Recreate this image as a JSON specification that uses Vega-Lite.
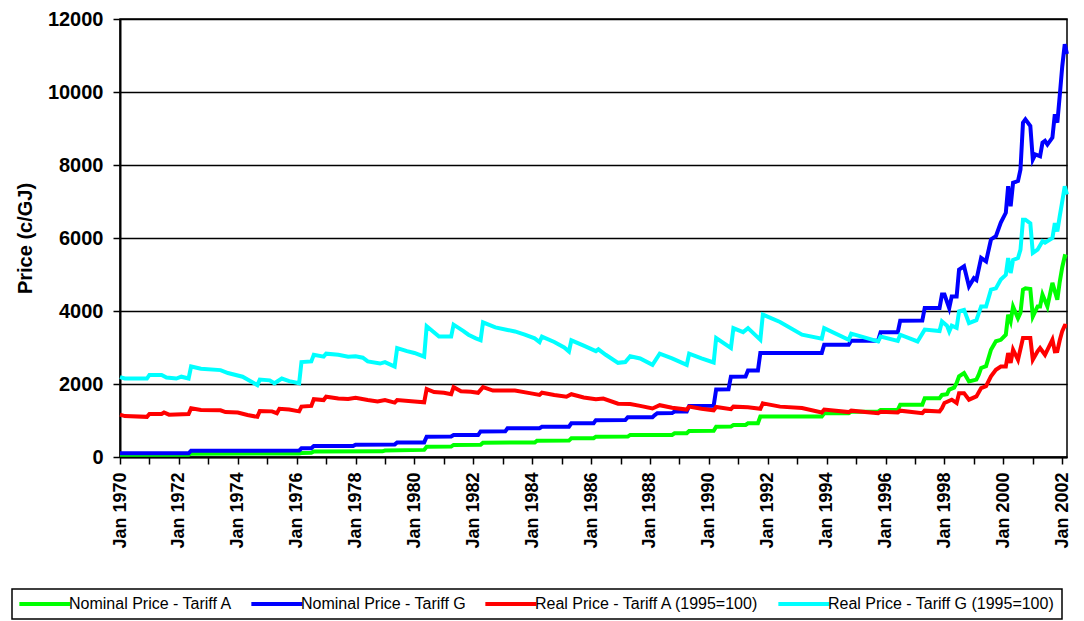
{
"$schema": "https://vega.github.io/schema/vega-lite/v6.json",
"width": 947, "height": 438,
"autosize": {"type": "none"},
"padding": {"left": 120, "top": 19, "right": 17, "bottom": 164},
"background": "white",
"config": {"view": {"stroke": "#000", "strokeWidth": 1.5}, "font": "Liberation Sans", "legend": {"strokeWidth": 1.5}},
"datasets": {
"na": [
{"d":"1970-01","v":60},{"d":"1972-05","v":60},{"d":"1972-06","v":90},{"d":"1976-02","v":95},{"d":"1976-03","v":110},{"d":"1976-07","v":115},{"d":"1976-08","v":150},{"d":"1978-12","v":155},{"d":"1979-01","v":175},{"d":"1980-05","v":195},{"d":"1980-06","v":283},{"d":"1981-04","v":285},{"d":"1981-05","v":330},{"d":"1982-04","v":335},{"d":"1982-05","v":393},{"d":"1984-02","v":395},{"d":"1984-03","v":448},{"d":"1985-04","v":450},{"d":"1985-05","v":513},{"d":"1986-02","v":515},{"d":"1986-03","v":557},{"d":"1987-04","v":560},{"d":"1987-05","v":604},{"d":"1988-10","v":606},{"d":"1988-11","v":650},{"d":"1989-04","v":652},{"d":"1989-05","v":714},{"d":"1990-03","v":716},{"d":"1990-04","v":832},{"d":"1990-10","v":834},{"d":"1990-11","v":878},{"d":"1991-04","v":880},{"d":"1991-05","v":925},{"d":"1991-09","v":927},{"d":"1991-10","v":1107},{"d":"1993-11","v":1110},{"d":"1993-12","v":1200},{"d":"1994-10","v":1202},{"d":"1994-11","v":1240},{"d":"1995-10","v":1242},{"d":"1995-11","v":1290},{"d":"1996-06","v":1292},{"d":"1996-07","v":1430},{"d":"1997-04","v":1432},{"d":"1997-05","v":1610},{"d":"1997-11","v":1612},{"d":"1997-12","v":1700},{"d":"1998-02","v":1720},{"d":"1998-03","v":1845},{"d":"1998-05","v":1900},{"d":"1998-06","v":2030},{"d":"1998-07","v":2210},{"d":"1998-09","v":2300},{"d":"1998-11","v":2070},{"d":"1999-02","v":2120},{"d":"1999-03","v":2250},{"d":"1999-04","v":2440},{"d":"1999-06","v":2490},{"d":"1999-08","v":2940},{"d":"1999-10","v":3170},{"d":"1999-12","v":3210},{"d":"2000-02","v":3350},{"d":"2000-03","v":3900},{"d":"2000-04","v":3715},{"d":"2000-05","v":4120},{"d":"2000-07","v":3800},{"d":"2000-08","v":3950},{"d":"2000-09","v":4585},{"d":"2000-10","v":4620},{"d":"2000-12","v":4600},{"d":"2001-01","v":3850},{"d":"2001-03","v":4125},{"d":"2001-04","v":4125},{"d":"2001-05","v":4450},{"d":"2001-07","v":4125},{"d":"2001-09","v":4770},{"d":"2001-11","v":4310},{"d":"2001-12","v":4800},{"d":"2002-01","v":5200},{"d":"2002-02","v":5500},{"d":"2002-03","v":5480}
],
"ng": [
{"d":"1970-01","v":100},{"d":"1972-05","v":100},{"d":"1972-06","v":173},{"d":"1976-02","v":175},{"d":"1976-03","v":238},{"d":"1976-07","v":240},{"d":"1976-08","v":300},{"d":"1977-12","v":302},{"d":"1978-01","v":338},{"d":"1979-05","v":340},{"d":"1979-06","v":400},{"d":"1980-05","v":400},{"d":"1980-06","v":557},{"d":"1981-04","v":560},{"d":"1981-05","v":600},{"d":"1982-03","v":602},{"d":"1982-04","v":700},{"d":"1983-02","v":702},{"d":"1983-03","v":787},{"d":"1984-04","v":790},{"d":"1984-05","v":830},{"d":"1985-04","v":832},{"d":"1985-05","v":925},{"d":"1986-02","v":927},{"d":"1986-03","v":1010},{"d":"1987-03","v":1012},{"d":"1987-04","v":1090},{"d":"1988-02","v":1092},{"d":"1988-03","v":1150},{"d":"1988-04","v":1200},{"d":"1988-10","v":1202},{"d":"1988-11","v":1245},{"d":"1989-04","v":1247},{"d":"1989-05","v":1400},{"d":"1990-03","v":1402},{"d":"1990-04","v":1850},{"d":"1990-09","v":1855},{"d":"1990-10","v":2200},{"d":"1991-04","v":2205},{"d":"1991-05","v":2370},{"d":"1991-09","v":2372},{"d":"1991-10","v":2850},{"d":"1993-11","v":2852},{"d":"1993-12","v":3075},{"d":"1994-10","v":3077},{"d":"1994-11","v":3185},{"d":"1995-10","v":3187},{"d":"1995-11","v":3415},{"d":"1996-06","v":3417},{"d":"1996-07","v":3735},{"d":"1997-04","v":3737},{"d":"1997-05","v":4080},{"d":"1997-11","v":4082},{"d":"1997-12","v":4450},{"d":"1998-01","v":4450},{"d":"1998-03","v":4080},{"d":"1998-04","v":4400},{"d":"1998-06","v":4400},{"d":"1998-07","v":5135},{"d":"1998-09","v":5225},{"d":"1998-11","v":4675},{"d":"1999-01","v":4900},{"d":"1999-02","v":4850},{"d":"1999-04","v":5455},{"d":"1999-06","v":5360},{"d":"1999-08","v":5960},{"d":"1999-10","v":6050},{"d":"1999-12","v":6420},{"d":"2000-02","v":6690},{"d":"2000-03","v":7420},{"d":"2000-04","v":6870},{"d":"2000-05","v":7515},{"d":"2000-07","v":7560},{"d":"2000-08","v":7880},{"d":"2000-09","v":9160},{"d":"2000-10","v":9250},{"d":"2000-12","v":9070},{"d":"2001-01","v":8150},{"d":"2001-02","v":8290},{"d":"2001-04","v":8240},{"d":"2001-05","v":8610},{"d":"2001-06","v":8660},{"d":"2001-07","v":8560},{"d":"2001-09","v":8750},{"d":"2001-10","v":9390},{"d":"2001-11","v":9160},{"d":"2001-12","v":9900},{"d":"2002-01","v":10700},{"d":"2002-02","v":11310},{"d":"2002-03","v":11040}
],
"ra": [
{"d":"1970-01","v":1160},{"d":"1970-03","v":1120},{"d":"1970-12","v":1100},{"d":"1971-01","v":1180},{"d":"1971-06","v":1180},{"d":"1971-07","v":1220},{"d":"1971-09","v":1160},{"d":"1972-05","v":1180},{"d":"1972-06","v":1337},{"d":"1972-10","v":1290},{"d":"1973-06","v":1280},{"d":"1973-08","v":1230},{"d":"1974-01","v":1220},{"d":"1974-05","v":1150},{"d":"1974-09","v":1100},{"d":"1974-10","v":1260},{"d":"1975-03","v":1250},{"d":"1975-05","v":1200},{"d":"1975-06","v":1320},{"d":"1975-10","v":1300},{"d":"1976-02","v":1250},{"d":"1976-03","v":1380},{"d":"1976-07","v":1400},{"d":"1976-08","v":1584},{"d":"1976-12","v":1560},{"d":"1977-01","v":1650},{"d":"1977-06","v":1600},{"d":"1977-10","v":1590},{"d":"1978-01","v":1620},{"d":"1978-06","v":1560},{"d":"1978-10","v":1520},{"d":"1979-01","v":1560},{"d":"1979-05","v":1490},{"d":"1979-06","v":1560},{"d":"1980-01","v":1520},{"d":"1980-05","v":1500},{"d":"1980-06","v":1860},{"d":"1980-09","v":1780},{"d":"1981-01","v":1760},{"d":"1981-04","v":1720},{"d":"1981-05","v":1914},{"d":"1981-08","v":1800},{"d":"1981-12","v":1790},{"d":"1982-03","v":1760},{"d":"1982-05","v":1914},{"d":"1982-09","v":1820},{"d":"1983-06","v":1820},{"d":"1983-12","v":1750},{"d":"1984-04","v":1700},{"d":"1984-05","v":1760},{"d":"1984-10","v":1700},{"d":"1985-03","v":1650},{"d":"1985-05","v":1720},{"d":"1985-10","v":1630},{"d":"1986-03","v":1580},{"d":"1986-06","v":1600},{"d":"1986-12","v":1460},{"d":"1987-05","v":1450},{"d":"1987-09","v":1400},{"d":"1988-02","v":1330},{"d":"1988-05","v":1420},{"d":"1988-10","v":1350},{"d":"1989-04","v":1300},{"d":"1989-05","v":1380},{"d":"1989-10","v":1320},{"d":"1990-03","v":1280},{"d":"1990-04","v":1370},{"d":"1990-10","v":1310},{"d":"1990-11","v":1380},{"d":"1991-05","v":1360},{"d":"1991-10","v":1320},{"d":"1991-11","v":1470},{"d":"1992-06","v":1380},{"d":"1993-03","v":1340},{"d":"1993-11","v":1220},{"d":"1993-12","v":1300},{"d":"1994-10","v":1230},{"d":"1994-11","v":1270},{"d":"1995-10","v":1200},{"d":"1995-11","v":1240},{"d":"1996-06","v":1220},{"d":"1996-07","v":1270},{"d":"1997-04","v":1200},{"d":"1997-05","v":1270},{"d":"1997-11","v":1250},{"d":"1997-12","v":1340},{"d":"1998-01","v":1480},{"d":"1998-04","v":1570},{"d":"1998-06","v":1480},{"d":"1998-07","v":1750},{"d":"1998-09","v":1750},{"d":"1998-11","v":1570},{"d":"1999-02","v":1660},{"d":"1999-04","v":1890},{"d":"1999-06","v":1940},{"d":"1999-08","v":2210},{"d":"1999-10","v":2390},{"d":"1999-12","v":2480},{"d":"2000-02","v":2480},{"d":"2000-03","v":2850},{"d":"2000-04","v":2575},{"d":"2000-05","v":2940},{"d":"2000-07","v":2665},{"d":"2000-09","v":3260},{"d":"2000-12","v":3260},{"d":"2001-01","v":2665},{"d":"2001-03","v":2895},{"d":"2001-04","v":2985},{"d":"2001-06","v":2800},{"d":"2001-09","v":3215},{"d":"2001-10","v":2895},{"d":"2001-11","v":2900},{"d":"2001-12","v":3200},{"d":"2002-01","v":3450},{"d":"2002-02","v":3600},{"d":"2002-03","v":3590}
],
"rg": [
{"d":"1970-01","v":2190},{"d":"1970-03","v":2150},{"d":"1970-12","v":2150},{"d":"1971-01","v":2250},{"d":"1971-06","v":2250},{"d":"1971-08","v":2180},{"d":"1971-12","v":2150},{"d":"1972-02","v":2200},{"d":"1972-05","v":2150},{"d":"1972-06","v":2480},{"d":"1972-10","v":2420},{"d":"1973-06","v":2380},{"d":"1973-09","v":2300},{"d":"1974-03","v":2200},{"d":"1974-09","v":1970},{"d":"1974-10","v":2120},{"d":"1975-02","v":2100},{"d":"1975-04","v":2020},{"d":"1975-07","v":2150},{"d":"1975-10","v":2080},{"d":"1976-02","v":2020},{"d":"1976-03","v":2600},{"d":"1976-07","v":2620},{"d":"1976-08","v":2800},{"d":"1976-12","v":2750},{"d":"1977-01","v":2830},{"d":"1977-06","v":2800},{"d":"1977-10","v":2750},{"d":"1978-01","v":2760},{"d":"1978-04","v":2720},{"d":"1978-06","v":2620},{"d":"1978-11","v":2560},{"d":"1979-01","v":2600},{"d":"1979-05","v":2480},{"d":"1979-06","v":2985},{"d":"1979-10","v":2900},{"d":"1980-01","v":2850},{"d":"1980-05","v":2750},{"d":"1980-06","v":3580},{"d":"1980-11","v":3300},{"d":"1981-04","v":3300},{"d":"1981-05","v":3625},{"d":"1981-09","v":3450},{"d":"1981-11","v":3350},{"d":"1982-02","v":3250},{"d":"1982-04","v":3200},{"d":"1982-05","v":3690},{"d":"1982-10","v":3550},{"d":"1983-03","v":3480},{"d":"1983-06","v":3440},{"d":"1983-10","v":3350},{"d":"1984-02","v":3250},{"d":"1984-04","v":3150},{"d":"1984-05","v":3300},{"d":"1984-10","v":3150},{"d":"1985-02","v":3000},{"d":"1985-04","v":2890},{"d":"1985-05","v":3195},{"d":"1985-10","v":3050},{"d":"1986-03","v":2900},{"d":"1986-04","v":2950},{"d":"1986-07","v":2800},{"d":"1986-12","v":2580},{"d":"1987-03","v":2600},{"d":"1987-05","v":2760},{"d":"1987-09","v":2700},{"d":"1988-02","v":2525},{"d":"1988-05","v":2830},{"d":"1988-10","v":2700},{"d":"1989-04","v":2525},{"d":"1989-05","v":2830},{"d":"1989-10","v":2700},{"d":"1990-03","v":2590},{"d":"1990-04","v":3260},{"d":"1990-09","v":3030},{"d":"1990-10","v":2985},{"d":"1990-11","v":3530},{"d":"1991-03","v":3420},{"d":"1991-05","v":3530},{"d":"1991-10","v":3210},{"d":"1991-11","v":3900},{"d":"1992-06","v":3700},{"d":"1993-03","v":3350},{"d":"1993-11","v":3240},{"d":"1993-12","v":3530},{"d":"1994-10","v":3210},{"d":"1994-11","v":3380},{"d":"1995-10","v":3165},{"d":"1995-11","v":3300},{"d":"1996-06","v":3180},{"d":"1996-07","v":3350},{"d":"1997-02","v":3165},{"d":"1997-05","v":3490},{"d":"1997-11","v":3450},{"d":"1997-12","v":3715},{"d":"1998-02","v":3600},{"d":"1998-03","v":3440},{"d":"1998-04","v":3600},{"d":"1998-06","v":3540},{"d":"1998-07","v":3990},{"d":"1998-09","v":4030},{"d":"1998-11","v":3670},{"d":"1999-02","v":3750},{"d":"1999-04","v":4125},{"d":"1999-06","v":4125},{"d":"1999-08","v":4585},{"d":"1999-10","v":4620},{"d":"1999-12","v":4860},{"d":"2000-02","v":4990},{"d":"2000-03","v":5450},{"d":"2000-04","v":5040},{"d":"2000-05","v":5400},{"d":"2000-07","v":5450},{"d":"2000-08","v":5680},{"d":"2000-09","v":6500},{"d":"2000-10","v":6500},{"d":"2000-12","v":6400},{"d":"2001-01","v":5590},{"d":"2001-03","v":5680},{"d":"2001-05","v":5910},{"d":"2001-06","v":5870},{"d":"2001-09","v":6000},{"d":"2001-10","v":6410},{"d":"2001-11","v":6180},{"d":"2001-12","v":6600},{"d":"2002-01","v":7000},{"d":"2002-02","v":7415},{"d":"2002-03","v":7190}
]
},
"encoding": {
"x": {"field": "d", "type": "temporal",
 "scale": {"domain": ["1970-01", "2002-03"]},
 "axis": {"title": null, "tickCount": {"interval": "year", "step": 1},
  "labelExpr": "year(datum.value) % 2 == 0 ? 'Jan ' + year(datum.value) : ''",
  "labelAngle": -90, "labelFontSize": 18, "labelFontWeight": "bold", "labelColor": "#000",
  "tickColor": "#000", "tickSize": 7, "tickWidth": 1.5, "domainColor": "#000", "domainWidth": 2,
  "grid": false, "labelPadding": 8, "labelOverlap": false, "labelBound": false, "labelFlush": false}},
"y": {"field": "v", "type": "quantitative",
 "scale": {"domain": [0, 12000], "nice": false},
 "axis": {"title": "Price (c/GJ)", "values": [0, 2000, 4000, 6000, 8000, 10000, 12000], "format": "d",
  "labelFontSize": 20, "labelFontWeight": "bold", "labelColor": "#000",
  "titleFontSize": 20, "titleFontWeight": "bold", "titleColor": "#000", "titlePadding": 12,
  "gridColor": "#000", "gridWidth": 1.5, "gridOpacity": 1,
  "domainColor": "#000", "domainWidth": 2, "tickColor": "#000", "tickSize": 7, "tickWidth": 1.5, "labelPadding": 10}}
},
"layer": [
{"data": {"name": "na"}, "mark": {"type": "line", "strokeWidth": 4},
 "encoding": {"color": {"datum": "Nominal Price - Tariff A",
  "scale": {"domain": ["Nominal Price - Tariff A", "Nominal Price - Tariff G", "Real Price - Tariff A (1995=100)", "Real Price - Tariff G (1995=100)"], "range": ["#00FF00", "#0000FF", "#FF0000", "#00FFFF"]},
  "legend": {"title": null, "orient": "none", "legendX": -108, "legendY": 570, "direction": "horizontal",
   "symbolType": "M-1.5,0H8.5", "symbolSize": 104, "symbolStrokeWidth": 4, "labelFontSize": 16, "labelColor": "#000",
   "labelLimit": 400, "labelOffset": 34, "columnPadding": 10, "padding": 7, "strokeColor": "#000", "fillColor": "#fff"}}}},
{"data": {"name": "ng"}, "mark": {"type": "line", "strokeWidth": 4},
 "encoding": {"color": {"datum": "Nominal Price - Tariff G"}}},
{"data": {"name": "ra"}, "mark": {"type": "line", "strokeWidth": 4},
 "encoding": {"color": {"datum": "Real Price - Tariff A (1995=100)"}}},
{"data": {"name": "rg"}, "mark": {"type": "line", "strokeWidth": 4},
 "encoding": {"color": {"datum": "Real Price - Tariff G (1995=100)"}}}
]
}
